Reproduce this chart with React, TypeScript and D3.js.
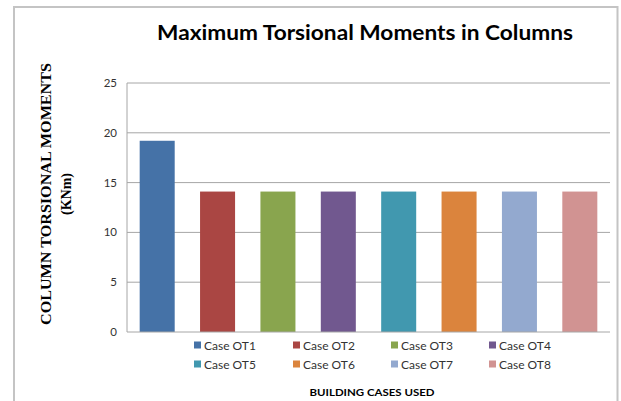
import React from "react";
import * as d3 from "d3";

const categories = ["Case OT1", "Case OT2", "Case OT3", "Case OT4", "Case OT5", "Case OT6", "Case OT7", "Case OT8"];
const values = [19.2, 14.1, 14.1, 14.1, 14.1, 14.1, 14.1, 14.1];
const colors = ["#4572A7", "#AA4643", "#89A54E", "#71588F", "#4198AF", "#DB843D", "#93A9CF", "#D19392"];
const yTicks = [0, 5, 10, 15, 20, 25];
const title = "Maximum Torsional Moments in Columns";
const yTitle1 = "COLUMN TORSIONAL MOMENTS";
const yTitle2 = "(KNm)";
const xTitle = "BUILDING CASES USED";

export default function App() {
  const W = 621, H = 401;
  const left = 127, right = 610, top = 83, bottom = 332;
  const x = d3.scaleBand<string>().domain(categories).range([left, right]).paddingInner(0.42).paddingOuter(0.21);
  const y = d3.scaleLinear().domain([0, 25]).range([bottom, top]);
  const legendX = [197, 296, 394, 492];
  const legendY = [345, 364];
  return (
    <svg width={W} height={H} style={{ position: "absolute", left: 0, top: 0 }}>
      <rect x={0} y={0} width={W} height={H} fill="#fff" />
      <path d={`M14,${H} V7 H617.5 V${H}`} fill="none" stroke="#c4c4c4" strokeWidth={2} />
      <text x={365} y={40} textAnchor="middle" fontFamily="Lato, 'Open Sans', sans-serif" fontWeight="bold" fontSize={21} fill="#000" textLength={416} lengthAdjust="spacingAndGlyphs">{title}</text>
      {yTicks.map((t) => (
        <g key={t}>
          {t > 0 && <line x1={left} x2={right} y1={y(t)} y2={y(t)} stroke="#a6a6a6" strokeWidth={1} />}
          <text x={117} y={y(t) + 4} textAnchor="end" fontFamily="Lato, 'Open Sans', sans-serif" fontSize={11.5} fill="#333">{t}</text>
        </g>
      ))}
      {categories.map((c, i) => (
        <rect key={c} x={x(c)} y={y(values[i])} width={x.bandwidth()} height={bottom - y(values[i])} fill={colors[i]} />
      ))}
      <line x1={left} x2={left} y1={top} y2={bottom} stroke="#a6a6a6" strokeWidth={1} />
      <line x1={left} x2={right} y1={bottom} y2={bottom} stroke="#a6a6a6" strokeWidth={1} />
      {categories.map((c, i) => {
        const lx = legendX[i % 4];
        const ly = legendY[Math.floor(i / 4)];
        return (
          <g key={"l" + c}>
            <rect x={lx - 3} y={ly - 3.5} width={7} height={7} fill={colors[i]} />
            <text x={lx + 7} y={ly + 4.5} fontFamily="Lato, 'Open Sans', sans-serif" fontSize={12} fill="#333">{c}</text>
          </g>
        );
      })}
      <text x={372} y={396} textAnchor="middle" fontFamily="Lato, 'Open Sans', sans-serif" fontWeight="bold" fontSize={10} fill="#000" textLength={125} lengthAdjust="spacingAndGlyphs">{xTitle}</text>
      <g transform="translate(51,194) rotate(-90)">
        <text x={0} y={0} textAnchor="middle" fontFamily="'Liberation Serif', 'Times New Roman', serif" fontWeight="bold" fontSize={14} fill="#000" textLength={262} lengthAdjust="spacingAndGlyphs">{yTitle1}</text>
      </g>
      <g transform="translate(71,194) rotate(-90)">
        <text x={0} y={0} textAnchor="middle" fontFamily="'Liberation Serif', 'Times New Roman', serif" fontWeight="bold" fontSize={14} fill="#000">{yTitle2}</text>
      </g>
    </svg>
  );
}
